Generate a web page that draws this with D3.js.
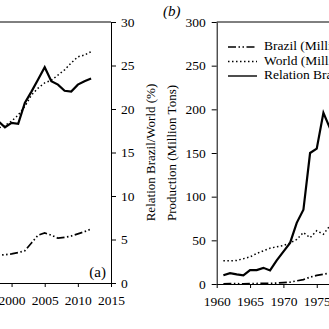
<!DOCTYPE html>
<html>
<head>
<meta charset="utf-8">
<script src="https://cdn.jsdelivr.net/npm/d3@7"></script>
<style>
  html, body { margin: 0; padding: 0; background: #fff; overflow: hidden; }
  svg { display: block; font-family: "Liberation Serif", "DejaVu Serif", serif; }
</style>
</head>
<body>
<div id="chart"></div>
<script>
// panel (a): yearly values
const yearsA = [1997, 1998, 1999, 2000, 2001, 2002, 2003, 2004, 2005, 2006, 2007, 2008, 2009, 2010, 2011, 2012];
const relationA = [18.7, 18.6, 17.9, 18.4, 18.3, 20.7, 22.0, 23.4, 24.8, 23.2, 22.8, 22.1, 22.0, 22.8, 23.2, 23.5];
const worldA = [17.6, 17.8, 18.1, 18.6, 19.3, 20.3, 21.6, 22.4, 23.0, 23.3, 23.9, 24.5, 25.3, 26.0, 26.2, 26.6];
const brazilA = [3.1, 3.2, 3.25, 3.35, 3.5, 3.7, 4.6, 5.5, 5.75, 5.5, 5.15, 5.25, 5.4, 5.65, 5.9, 6.2];
const ticksXA = [2000, 2005, 2010, 2015];
const ticksYA = [0, 5, 10, 15, 20, 25, 30];

// panel (b)
const yearsB = [1961, 1962, 1963, 1964, 1965, 1966, 1967, 1968, 1969, 1970, 1971, 1972, 1973, 1974, 1975, 1976, 1977];
const brazilB = [0.27, 0.35, 0.32, 0.3, 0.52, 0.6, 0.72, 0.65, 1.06, 1.5, 2.08, 3.67, 5.01, 7.88, 9.89, 11.23, 12.51];
const worldB = [26.5, 26.5, 27, 29, 31, 35, 38, 41, 42.5, 44, 47, 51, 59, 53, 61, 57, 67];
const relationB = [10, 12.5, 11, 10, 16, 16, 18.5, 15.5, 27, 37, 47, 70, 85, 150, 155, 196, 178];
const ticksXB = [1960, 1965, 1970, 1975];
const ticksYB = [0, 50, 100, 150, 200, 250, 300];

const legendLabels = ['Brazil (Million Tons)', 'World (Million Tons)', 'Relation Brazil/World (%)'];

const W = 329, H = 329;
const FS = '13.5px';
const dashBrazil = '8,2.5,1.5,2.5,1.5,2.5';
const dashWorld = '1.5,2.5';

const svg = d3.select('#chart').append('svg')
    .attr('width', W).attr('height', H);

svg.append('rect').attr('width', W).attr('height', H).attr('fill', '#fff');

// ---------- panel (a) ----------
const xA = d3.scaleLinear().domain([1960, 2015]).range([-253.6, 111]);
const yA = d3.scaleLinear().domain([0, 30]).range([283, 22]);

const gA = svg.append('g');

// box top
gA.append('line').attr('x1', xA(1960)).attr('x2', xA(2015)).attr('y1', yA(30)).attr('y2', yA(30))
    .attr('stroke', '#000').attr('stroke-width', 1);

const axA = gA.append('g').attr('transform', `translate(0,${yA(0)})`)
    .call(d3.axisBottom(xA).tickValues(ticksXA).tickFormat(d3.format('d')).tickSizeInner(4).tickSizeOuter(0).tickPadding(8));
const ayA = gA.append('g').attr('transform', `translate(${xA(2015)},0)`)
    .call(d3.axisRight(yA).tickValues(ticksYA).tickSizeInner(5).tickSizeOuter(0).tickPadding(5));

[axA, ayA].forEach(a => {
    a.selectAll('path, line').attr('stroke', '#000');
    a.selectAll('text').attr('fill', '#000').style('font-size', FS)
        .style('font-family', '"Liberation Serif", serif');
});

gA.append('text')
    .attr('transform', `translate(152,${(yA(0) + yA(30)) / 2}) rotate(-90)`)
    .attr('text-anchor', 'middle')
    .attr('dominant-baseline', 'middle')
    .style('font-size', '13px')
    .text('Relation Brazil/World (%)');

gA.append('text')
    .attr('x', 106).attr('y', 277)
    .attr('text-anchor', 'end')
    .style('font-size', '15px')
    .text('(a)');

const lineA = vals => d3.line()
    .x((d, i) => xA(yearsA[i]))
    .y(d => yA(d))(vals);

gA.append('path').attr('d', lineA(worldA)).attr('fill', 'none')
    .attr('stroke', '#000').attr('stroke-width', 1.5).attr('stroke-dasharray', dashWorld);
gA.append('path').attr('d', lineA(brazilA)).attr('fill', 'none')
    .attr('stroke', '#000').attr('stroke-width', 1.7).attr('stroke-dasharray', dashBrazil);
gA.append('path').attr('d', lineA(relationA)).attr('fill', 'none')
    .attr('stroke', '#000').attr('stroke-width', 2.2);

// ---------- panel (b) ----------
const xB = d3.scaleLinear().domain([1960, 2015]).range([216.7, 216.7 + 55 * 6.67]);
const yB = d3.scaleLinear().domain([0, 300]).range([284, 22]);

const gB = svg.append('g');

gB.append('line').attr('x1', xB(1960)).attr('x2', W + 10).attr('y1', yB(300)).attr('y2', yB(300))
    .attr('stroke', '#000').attr('stroke-width', 1);

const axB = gB.append('g').attr('transform', `translate(0,${yB(0)})`)
    .call(d3.axisBottom(xB).tickValues(ticksXB).tickFormat(d3.format('d')).tickSizeInner(4).tickSizeOuter(0).tickPadding(8));
const ayB = gB.append('g').attr('transform', `translate(${xB(1960)},0)`)
    .call(d3.axisLeft(yB).tickValues(ticksYB).tickSizeInner(5).tickSizeOuter(0).tickPadding(6));

[axB, ayB].forEach(a => {
    a.selectAll('path, line').attr('stroke', '#000');
    a.selectAll('text').attr('fill', '#000').style('font-size', FS)
        .style('font-family', '"Liberation Serif", serif');
});

gB.append('text')
    .attr('transform', `translate(173,${(yB(0) + yB(300)) / 2}) rotate(-90)`)
    .attr('text-anchor', 'middle')
    .attr('dominant-baseline', 'middle')
    .style('font-size', '13px')
    .text('Production (Million Tons)');

gB.append('text')
    .attr('x', 163).attr('y', 16)
    .style('font-size', '15px')
    .style('font-style', 'italic')
    .text('(b)');

const lineB = vals => d3.line()
    .x((d, i) => xB(yearsB[i]))
    .y(d => yB(d))(vals);

gB.append('path').attr('d', lineB(worldB)).attr('fill', 'none')
    .attr('stroke', '#000').attr('stroke-width', 1.5).attr('stroke-dasharray', dashWorld);
gB.append('path').attr('d', lineB(brazilB)).attr('fill', 'none')
    .attr('stroke', '#000').attr('stroke-width', 1.7).attr('stroke-dasharray', dashBrazil);
gB.append('path').attr('d', lineB(relationB)).attr('fill', 'none')
    .attr('stroke', '#000').attr('stroke-width', 2.2);

// legend
const legendStyles = [
    { dash: dashBrazil, w: 1.7 },
    { dash: dashWorld, w: 1.5 },
    { dash: null, w: 1.4 }
];
const leg = gB.append('g');
legendLabels.forEach((label, i) => {
    const y = 47 + i * 14.5;
    leg.append('line')
        .attr('x1', 228).attr('x2', 257).attr('y1', y).attr('y2', y)
        .attr('stroke', '#000').attr('stroke-width', legendStyles[i].w)
        .attr('stroke-dasharray', legendStyles[i].dash);
    leg.append('text')
        .attr('x', 264).attr('y', y)
        .attr('dominant-baseline', 'middle')
        .style('font-size', '13.5px')
        .text(label);
});
</script>
</body>
</html>
